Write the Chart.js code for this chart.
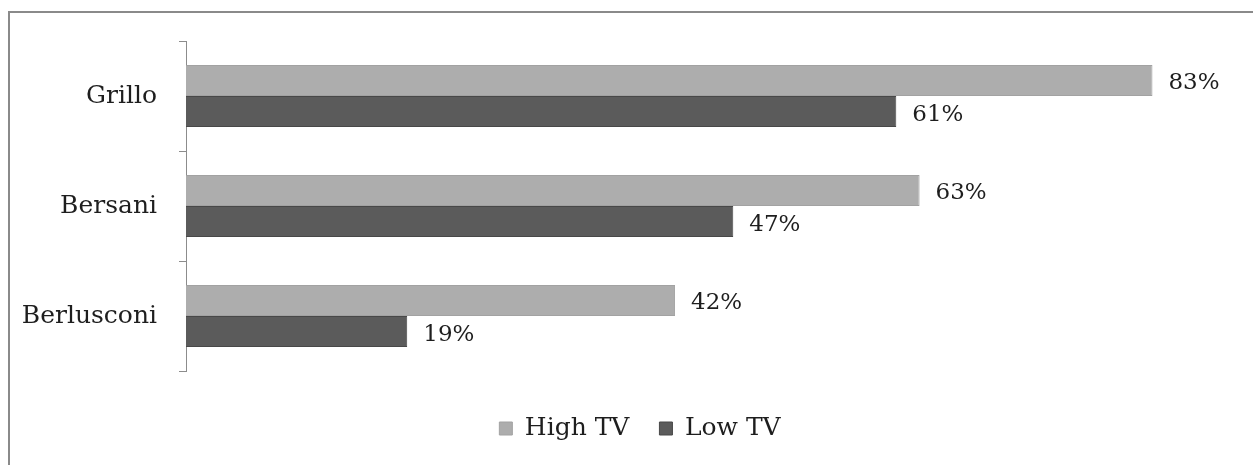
<!DOCTYPE html>
<html>
<head>
<meta charset="utf-8">
<script src="https://cdn.jsdelivr.net/npm/chart.js@4/dist/chart.umd.min.js"></script>
<style>
  html, body { margin: 0; padding: 0; background: #fff; }
  #wrap { position: relative; width: 1253px; height: 465px; overflow: hidden; }
  #frame { position: absolute; left: 8px; top: 11px; width: 1300px; height: 500px;
           border-left: 2px solid #8a8a8a; border-top: 2px solid #8a8a8a; }
  #barChart { position: absolute; left: 0; top: 0; }
</style>
</head>
<body>
<div id="wrap">
  <div id="frame"></div>
  <canvas id="barChart" width="1253" height="465"></canvas>
</div>
<script>
var candidates = ["Grillo", "Bersani", "Berlusconi"];
var highTV = [83, 63, 42];
var lowTV = [61, 47, 19];

var serif = "'DejaVu Serif', 'Liberation Serif', serif";

// percent labels to the right of every bar
const valueLabels = {
  id: 'valueLabels',
  afterDatasetsDraw(chart) {
    const ctx = chart.ctx;
    ctx.save();
    ctx.font = '23px ' + serif;
    ctx.fillStyle = '#1e1e1e';
    ctx.textAlign = 'left';
    ctx.textBaseline = 'middle';
    chart.data.datasets.forEach(function (ds, i) {
      chart.getDatasetMeta(i).data.forEach(function (bar, j) {
        ctx.fillText(ds.data[j] + '%', bar.x + 16, bar.y + 3);
      });
    });
    ctx.restore();
  }
};

// nudge the legend a bit to the right so it sits under the bars
const legendShift = {
  id: 'legendShift',
  afterLayout(chart) {
    if (chart.legend) chart.legend.left += 46;
  }
};

var canvasBar = document.getElementById("barChart");
const data = {
  labels: candidates,
  datasets: [
    {
      label: "High TV",
      data: highTV,
      backgroundColor: "#adadad",
      borderColor: "#a2a2a2",
      borderWidth: 1,
      categoryPercentage: 0.565,
      barPercentage: 1.0
    },
    {
      label: "Low TV",
      data: lowTV,
      backgroundColor: "#5b5b5b",
      borderColor: "#484848",
      borderWidth: 1,
      categoryPercentage: 0.565,
      barPercentage: 1.0
    }
  ]
};

const configBar = {
  type: 'bar',
  data: data,
  plugins: [valueLabels, legendShift],
  options: {
    indexAxis: 'y',
    responsive: false,
    animation: false,
    layout: { padding: { top: 41, right: 19, bottom: 14, left: 0 } },
    scales: {
      x: {
        min: 0,
        max: 90,
        grid: { display: false },
        border: { display: false },
        ticks: { display: false },
        afterFit: function (scale) { scale.height = 15; }
      },
      y: {
        grid: { drawOnChartArea: false, tickLength: 7, color: '#8c8c8c', offset: true },
        border: { color: '#8c8c8c', width: 1 },
        ticks: { color: '#1e1e1e', font: { family: serif, size: 25 }, padding: 22 },
        afterFit: function (scale) { scale.width = 186; }
      }
    },
    plugins: {
      legend: {
        position: 'bottom',
        labels: {
          color: '#1e1e1e',
          font: { family: serif, size: 25 },
          boxWidth: 13,
          boxHeight: 13,
          padding: 30,
          useBorderRadius: false
        }
      },
      title: { display: false },
      tooltip: { enabled: false }
    }
  }
};

var BarChart = new Chart(canvasBar, configBar);
</script>
</body>
</html>
